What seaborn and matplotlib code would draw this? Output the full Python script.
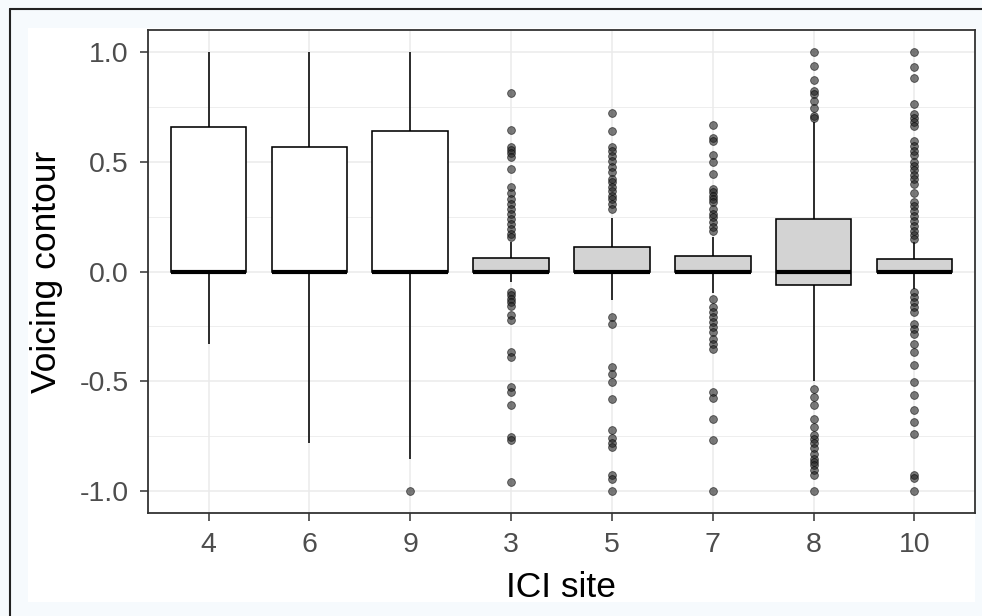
import numpy as np
import pandas as pd
import matplotlib
matplotlib.use("Agg")
import matplotlib.pyplot as plt
from matplotlib.ticker import MultipleLocator, FixedLocator
from matplotlib.lines import Line2D
from matplotlib.patches import Rectangle
import seaborn as sns

# ICI sites in plotted order
sites = ['4', '6', '9', '3', '5', '7', '8', '10']
fills = ['white', 'white', 'white', 'lightgrey', 'lightgrey', 'lightgrey', 'lightgrey', 'lightgrey']

# box summaries
q1 = [0.0, 0.0, 0.0, 0.0, 0.0, 0.0, -0.06, 0.0]
med = [0.0, 0.0, 0.0, 0.0, 0.0, 0.0, 0.0, 0.0]
q3 = [0.66, 0.565, 0.64, 0.06, 0.11, 0.07, 0.24, 0.056]
whisk_lo = [-0.33, -0.78, -0.855, -0.05, -0.13, -0.10, -0.50, -0.078]
whisk_hi = [1.0, 1.0, 1.0, 0.135, 0.245, 0.155, 0.68, 0.135]

# outlying points per site
out_4 = []
out_6 = []
out_9 = [-1.0]
out_3 = [0.815, 0.644, 0.568, 0.553, 0.538, 0.52, 0.467, 0.383, 0.356, 0.33, 0.308,
         0.285, 0.262, 0.24, 0.217, 0.194, 0.171, 0.156,
         -0.094, -0.109, -0.124, -0.139, -0.155, -0.2, -0.223, -0.367, -0.39,
         -0.526, -0.549, -0.609, -0.753, -0.768, -0.958]
out_5 = [0.724, 0.638, 0.568, 0.55, 0.527, 0.505, 0.474, 0.451, 0.421, 0.406, 0.386,
         0.368, 0.345, 0.33, 0.308, 0.285,
         -0.205, -0.241, -0.435, -0.468, -0.503, -0.583, -0.723, -0.76, -0.783,
         -0.799, -0.927, -0.947, -1.0]
out_7 = [0.667, 0.61, 0.595, 0.532, 0.497, 0.444, 0.376, 0.36, 0.345, 0.33, 0.315,
         0.285, 0.262, 0.247, 0.224, 0.201, 0.185,
         -0.124, -0.162, -0.185, -0.208, -0.23, -0.253, -0.276, -0.306, -0.329,
         -0.352, -0.549, -0.574, -0.67, -0.768, -1.0]
out_8 = [1.0, 0.936, 0.871, 0.823, 0.808, 0.777, 0.744, 0.709, 0.70,
         -0.533, -0.571, -0.609, -0.67, -0.708, -0.745, -0.761, -0.783, -0.806,
         -0.829, -0.852, -0.867, -0.882, -0.905, -0.927, -1.0]
out_10 = [1.0, 0.932, 0.88, 0.765, 0.717, 0.699, 0.679, 0.664, 0.595, 0.573, 0.55,
          0.532, 0.497, 0.482, 0.462, 0.441, 0.421, 0.398, 0.356, 0.315, 0.3,
          0.277, 0.255, 0.232, 0.209, 0.186, 0.164, 0.148,
          -0.094, -0.117, -0.139, -0.162, -0.185, -0.238, -0.261, -0.283, -0.329,
          -0.367, -0.427, -0.503, -0.564, -0.632, -0.685, -0.738, -0.927, -0.942, -1.0]
outliers = [out_4, out_6, out_9, out_3, out_5, out_7, out_8, out_10]

# rebuild observations per site: the bulk sits on the quartiles
n_core = 200
rows = []
for i, s in enumerate(sites):
    vals = ([whisk_lo[i], whisk_hi[i]] + [q1[i]] * n_core + [med[i]] * n_core
            + [q3[i]] * n_core + outliers[i])
    rows += [(s, v) for v in vals]
df = pd.DataFrame(rows, columns=['site', 'contour'])

sns.set_style("white")
plt.rcParams['font.family'] = ['Liberation Sans', 'DejaVu Sans']
plt.rcParams['axes.unicode_minus'] = False

fig = plt.figure(figsize=(9.82, 6.16), dpi=100)
fig.patch.set_facecolor('#f6fafd')
W, H = 982, 616
fig.patches.append(Rectangle((28 / W, 1 - 602 / H), (975 - 28) / W, (602 - 28) / H,
                             transform=fig.transFigure, facecolor='white',
                             edgecolor='none', zorder=-2))
fig.lines.append(Line2D([9.5 / W, 9.5 / W], [0, 1 - 9 / H], transform=fig.transFigure,
                        color='#222222', lw=1.5, zorder=-1))
fig.lines.append(Line2D([9.5 / W, 1], [1 - 9 / H, 1 - 9 / H], transform=fig.transFigure,
                        color='#222222', lw=1.5, zorder=-1))

ax = fig.add_axes([148 / W, 1 - 513 / H, (975 - 148) / W, (513 - 30) / H])
ax.set_facecolor('white')

sns.boxplot(data=df, x='site', y='contour', order=sites, hue='site', hue_order=sites,
            palette=fills, saturation=1, legend=False, width=0.75, whis=1.5,
            linecolor='black', linewidth=1.15, showcaps=False, ax=ax,
            medianprops=dict(color='black', linewidth=3.0),
            flierprops=dict(marker='o', markerfacecolor='#222222',
                            markeredgecolor='black', markeredgewidth=0.6,
                            markersize=5.6, alpha=0.6))

ax.set_xlim(-0.6, 7.6)
ax.set_ylim(-1.1, 1.1)
ax.yaxis.set_major_locator(FixedLocator([-1.0, -0.5, 0.0, 0.5, 1.0]))
ax.set_yticklabels(['-1.0', '-0.5', '0.0', '0.5', '1.0'])
ax.yaxis.set_minor_locator(MultipleLocator(0.25))
ax.set_axisbelow(True)
ax.grid(True, which='major', color='#ebebeb', linewidth=1.1)
ax.grid(True, which='minor', axis='y', color='#ebebeb', linewidth=0.6)

ax.tick_params(which='major', direction='out', length=6, width=1.1, color='#333333',
               labelsize=20.5, labelcolor='#4d4d4d', left=True, bottom=True)
ax.tick_params(axis='y', pad=8)
ax.tick_params(axis='x', pad=8)
ax.tick_params(which='minor', length=0)
for sp in ax.spines.values():
    sp.set_visible(True)
    sp.set_color('#333333')
    sp.set_linewidth(1.3)

ax.set_xlabel('ICI site', fontsize=25.5, color='black', labelpad=9)
ax.set_ylabel('Voicing contour', fontsize=25.5, color='black', labelpad=12)

fig.savefig('out.png', dpi=100, facecolor=fig.get_facecolor())
